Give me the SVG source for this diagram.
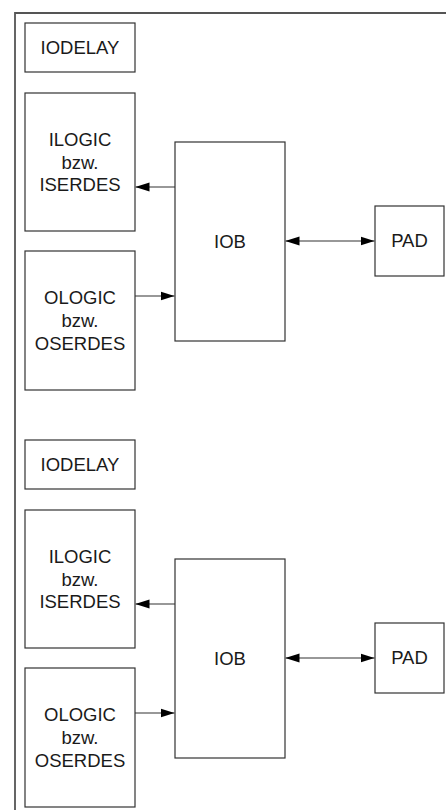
<svg xmlns="http://www.w3.org/2000/svg" width="446" height="810" viewBox="0 0 446 810">
  <style>
    .box { fill: #ffffff; stroke: #333333; stroke-width: 1.2; }
    .frame { fill: none; stroke: #555555; stroke-width: 1.8; }
    .wire { fill: none; stroke: #333333; stroke-width: 1.2; }
    text { font-family: "Liberation Sans", Arial, sans-serif; font-size: 18.5px; fill: #1a1a1a; text-anchor: middle; }
  </style>
  <defs>
    <marker id="arrowEnd" viewBox="0 0 14 10" refX="14" refY="5" markerWidth="14" markerHeight="10" markerUnits="userSpaceOnUse" orient="auto">
      <path d="M0,0.5 L14,5 L0,9.5 Z" fill="#000000"/>
    </marker>
    <marker id="arrowStart" viewBox="0 0 14 10" refX="0" refY="5" markerWidth="14" markerHeight="10" markerUnits="userSpaceOnUse" orient="auto">
      <path d="M14,0.5 L0,5 L14,9.5 Z" fill="#000000"/>
    </marker>
  </defs>

  <rect width="446" height="810" fill="#ffffff"/>

  <!-- outer frame (open to the right and bottom) -->
  <path class="frame" d="M15,810 L15,13 L446,13"/>

  <!-- upper I/O tile -->
  <g id="iodelay1">
    <rect class="box" x="25" y="23" width="110" height="49"/>
    <text x="80" y="54">IODELAY</text>
  </g>
  <g id="ilogic1">
    <rect class="box" x="25" y="93" width="110" height="138"/>
    <text x="80" y="145.5">ILOGIC</text>
    <text x="80" y="168.5">bzw.</text>
    <text x="80" y="191">ISERDES</text>
  </g>
  <g id="ologic1">
    <rect class="box" x="25" y="251" width="110" height="139"/>
    <text x="80" y="304">OLOGIC</text>
    <text x="80" y="327">bzw.</text>
    <text x="80" y="350">OSERDES</text>
  </g>
  <g id="iob1">
    <rect class="box" x="175" y="142" width="110" height="199"/>
    <text x="230" y="247.5">IOB</text>
  </g>
  <g id="pad1">
    <rect class="box" x="375" y="206" width="69" height="70"/>
    <text x="409.5" y="247">PAD</text>
  </g>

  <!-- lower I/O tile -->
  <g id="iodelay2">
    <rect class="box" x="25" y="440" width="110" height="49"/>
    <text x="80" y="471">IODELAY</text>
  </g>
  <g id="ilogic2">
    <rect class="box" x="25" y="510" width="110" height="138"/>
    <text x="80" y="562.5">ILOGIC</text>
    <text x="80" y="585.5">bzw.</text>
    <text x="80" y="608">ISERDES</text>
  </g>
  <g id="ologic2">
    <rect class="box" x="25" y="668" width="110" height="139"/>
    <text x="80" y="721">OLOGIC</text>
    <text x="80" y="744">bzw.</text>
    <text x="80" y="767">OSERDES</text>
  </g>
  <g id="iob2">
    <rect class="box" x="175" y="559" width="110" height="199"/>
    <text x="230" y="664.5">IOB</text>
  </g>
  <g id="pad2">
    <rect class="box" x="375" y="623" width="69" height="70"/>
    <text x="409.5" y="664">PAD</text>
  </g>

  <!-- connectors -->
  <g id="connectors">
    <line class="wire" x1="175" y1="187" x2="135.5" y2="187" marker-end="url(#arrowEnd)"/>
    <line class="wire" x1="135" y1="296" x2="174.5" y2="296" marker-end="url(#arrowEnd)"/>
    <line class="wire" x1="285.5" y1="241" x2="374.5" y2="241" marker-start="url(#arrowStart)" marker-end="url(#arrowEnd)"/>

    <line class="wire" x1="175" y1="604" x2="135.5" y2="604" marker-end="url(#arrowEnd)"/>
    <line class="wire" x1="135" y1="713" x2="174.5" y2="713" marker-end="url(#arrowEnd)"/>
    <line class="wire" x1="285.5" y1="658" x2="374.5" y2="658" marker-start="url(#arrowStart)" marker-end="url(#arrowEnd)"/>
  </g>
</svg>
